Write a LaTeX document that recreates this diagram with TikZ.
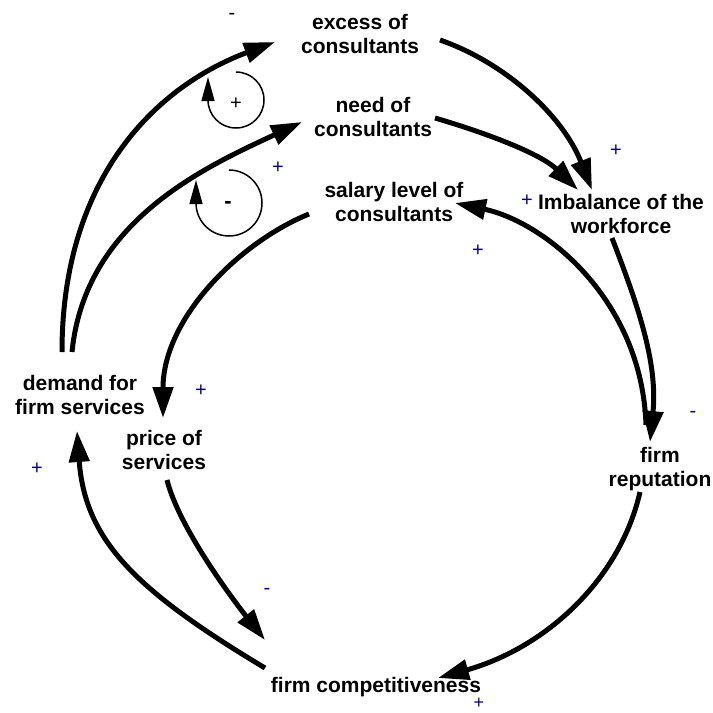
\documentclass[tikz,border=0pt]{standalone}
\usepackage{fontspec}
\setmainfont{Liberation Sans}
\usetikzlibrary{arrows.meta}
\definecolor{signblue}{RGB}{0,0,140}
\begin{document}
\begin{tikzpicture}[x=1pt,y=-1pt,
  var/.style={align=center,font=\fontsize{21}{24}\selectfont\bfseries,inner sep=0pt},
  link/.style={line width=5pt,-{Triangle[length=31pt,width=20pt]}},
  loopline/.style={line width=1.5pt,-{Triangle[length=24pt,width=13pt]}},
  sgn/.style={text=signblue,font=\fontsize{20}{20}\selectfont,inner sep=0pt},
  blk/.style={font=\fontsize{20}{20}\selectfont,inner sep=0pt},
]
\useasboundingbox (0,0) rectangle (713,713);
\fill[white] (0,0) rectangle (713,713);

% variables
\node[var] (exc)   at (360,34)  {excess of\\consultants};
\node[var] (need)  at (373,117) {need of\\consultants};
\node[var] (sal)   at (394,202) {salary level of\\consultants};
\node[var] (imb)   at (621,214) {Imbalance of the\\workforce};
\node[var] (rep)   at (660,469) {firm\\reputation};
\node[var] (comp)  at (376,687) {firm competitiveness};
\node[var] (dem)   at (80,395)  {demand for\\firm services};
\node[var] (price) at (164,450) {price of\\services};

% links
\draw[link] ([shift={(-18,-43)}]dem.center) .. controls (62,182) and (152,88) .. ([shift={(-85,8)}]exc.center);
\draw[link] ([shift={(-8,-43)}]dem.center) .. controls (85,222) and (203,168) .. ([shift={(-71,5)}]need.center);
\draw[link] ([shift={(80,6)}]exc.center) .. controls (506,63) and (563,116) .. ([shift={(-29,-24)}]imb.center);
\draw[link] ([shift={(62,1)}]need.center) .. controls (493,135) and (542,155) .. ([shift={(-43,-24)}]imb.center);
\draw[link] ([shift={(-9,24)}]imb.center) .. controls (637,303) and (658,362) .. ([shift={(-10,-27)}]rep.center);
\draw[link] ([shift={(-14,-44)}]rep.center) .. controls (642,300) and (545,222) .. ([shift={(61,1)}]sal.center);
\draw[link] ([shift={(-85,12)}]sal.center) .. controls (240,242) and (163,318) .. ([shift={(-1,-32)}]price.center);
\draw[link] ([shift={(3,30)}]price.center) .. controls (179,528) and (234,601) .. ([shift={(-111,-47)}]comp.center);
\draw[link] ([shift={(-111,-19)}]comp.center) .. controls (135,590) and (85,540) .. ([shift={(-3,36)}]dem.center);
\draw[link] ([shift={(-20,23)}]rep.center) .. controls (620,580) and (545,648) .. ([shift={(62,-9)}]comp.center);

% loop symbols
\coordinate (loopA) at (236,100);
\coordinate (loopB) at (229,203);
\draw[loopline] ([shift={(0,-28)}]loopA) arc[start angle=-90,end angle=180,radius=28] -- ([shift={(-28,-23)}]loopA);
\draw[loopline] ([shift={(0,-33)}]loopB) arc[start angle=-90,end angle=180,radius=33] -- ([shift={(-33,-23)}]loopB);
\node[blk] (loopAsign) at (236,104) {+};
\node[blk,font=\fontsize{22}{22}\selectfont\bfseries] (loopBsign) at (228,205) {-};

% polarities
\node[blk] (s1) at (232,16) {-};
\node[sgn] (s2) at (278,168) {+};
\node[sgn] (s3) at (616,151) {+};
\node[sgn] (s4) at (527,201) {+};
\node[sgn] (s5) at (478,251) {+};
\node[sgn] (s6) at (693,414) {-};
\node[sgn] (s7) at (201,391) {+};
\node[sgn] (s8) at (37,469) {+};
\node[sgn] (s9) at (267,591) {-};
\node[sgn,font=\fontsize{18}{18}\selectfont] (s10) at (479,703) {+};
\end{tikzpicture}
\end{document}
